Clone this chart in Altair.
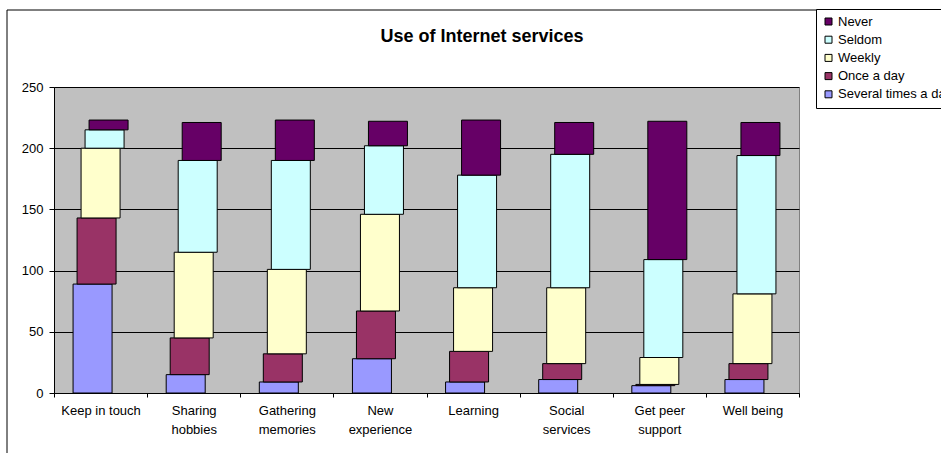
import altair as alt
import pandas as pd

title_text = "Use of Internet services"

categories = ["Keep in touch", "Sharing hobbies", "Gathering memories", "New experience",
              "Learning", "Social services", "Get peer support", "Well being"]
label_lines = {
    "Sharing hobbies": ["Sharing", "hobbies"],
    "Gathering memories": ["Gathering", "memories"],
    "New experience": ["New", "experience"],
    "Social services": ["Social", "services"],
    "Get peer support": ["Get peer", "support"],
}

series = ["Several times a day", "Once a day", "Weekly", "Seldom", "Never"]
several = [89, 15, 9, 28, 9, 11, 6, 11]
once = [54, 30, 23, 39, 25, 13, 1, 13]
weekly = [57, 70, 69, 79, 52, 62, 22, 57]
seldom = [15, 75, 89, 56, 92, 109, 80, 113]
never = [8, 31, 33, 20, 45, 26, 113, 27]

legend_order = ["Never", "Seldom", "Weekly", "Once a day", "Several times a day"]
legend_colors = ["#660066", "#CCFFFF", "#FFFFCC", "#993366", "#9999FF"]
offsets = [-8, -4, 0, 4, 8]

y_ticks = [0, 50, 100, 150, 200, 250]

FONT = "Liberation Sans"

rows = []
for si, (name, vals) in enumerate(zip(series, [several, once, weekly, seldom, never])):
    for c, v in zip(categories, vals):
        rows.append({"category": c, "series": name, "order": si, "value": v})
df = pd.DataFrame(rows)

# label expression for two-line category labels
expr = "datum.label"
for k, lines in label_lines.items():
    arr = "[" + ",".join("'" + s + "'" for s in lines) + "]"
    expr = f"datum.label == '{k}' ? {arr} : ({expr})"

x_enc = alt.X(
    "category:N",
    sort=categories,
    title=None,
    scale=alt.Scale(paddingInner=0, paddingOuter=0),
    axis=alt.Axis(
        labelExpr=expr,
        labelFont=FONT,
        labelFontSize=13,
        labelColor="black",
        labelAngle=0,
        labelLineHeight=19,
        labelPadding=7,
        tickBand="extent",
        tickSize=4,
        tickColor="black",
        domainColor="black",
        grid=False,
    ),
)
y_enc = alt.Y(
    "y0:Q",
    title=None,
    scale=alt.Scale(domain=[0, 250], nice=False),
    axis=alt.Axis(
        values=y_ticks,
        grid=True,
        gridColor="black",
        gridWidth=1,
        gridOpacity=1,
        domainColor="black",
        tickColor="black",
        tickSize=5,
        labelPadding=6,
        labelFont=FONT,
        labelFontSize=13,
        labelColor="black",
    ),
)
color_enc = alt.Color(
    "series:N",
    scale=alt.Scale(domain=legend_order, range=legend_colors),
    legend=alt.Legend(
        orient="none",
        legendX=762,
        legendY=-78,
        title=None,
        symbolType="square",
        symbolSize=49,
        symbolStrokeColor="black",
        symbolStrokeWidth=1,
        labelFont=FONT,
        labelFontSize=13,
        labelColor="black",
        fillColor="white",
        strokeColor="black",
        padding=6,
        rowPadding=4.2,
        labelOffset=3,
    ),
)

base = alt.Chart(df).transform_stack(
    stack="value",
    groupby=["category"],
    as_=["y0", "y1"],
    sort=[alt.SortField("order", order="ascending")],
)

layers = []
one = pd.DataFrame({"t": [title_text]})
frame_top = alt.Chart(one).mark_rule(color="black", strokeWidth=1).encode(
    x=alt.value(-47), x2=alt.value(950), y=alt.value(-77)
)
frame_left = alt.Chart(one).mark_rule(color="black", strokeWidth=1).encode(
    x=alt.value(-47), y=alt.value(-77), y2=alt.value(420)
)
layers += [frame_top, frame_left]

for s, off in zip(series, offsets):
    layers.append(
        base.transform_filter(alt.datum.series == s)
        .mark_bar(xOffset=off, size=39, stroke="black", strokeWidth=1)
        .encode(x=x_enc, y=y_enc, y2="y1:Q", color=color_enc)
    )

title_layer = alt.Chart(one).mark_text(
    font=FONT, fontSize=18, fontWeight="bold", align="center", baseline="alphabetic", color="black"
).encode(x=alt.value(428), y=alt.value(-45), text="t:N")
layers.append(title_layer)

chart = (
    alt.layer(*layers)
    .properties(
        width=745,
        height=306,
        autosize=alt.AutoSizeParams(type="none"),
        padding={"left": 54, "top": 87, "right": 142, "bottom": 60},
        background="white",
    )
    .configure_view(fill="#C0C0C0", stroke="#808080", strokeWidth=1)
)

chart.save("out.html", embed_options={"renderer": "svg", "actions": False})
